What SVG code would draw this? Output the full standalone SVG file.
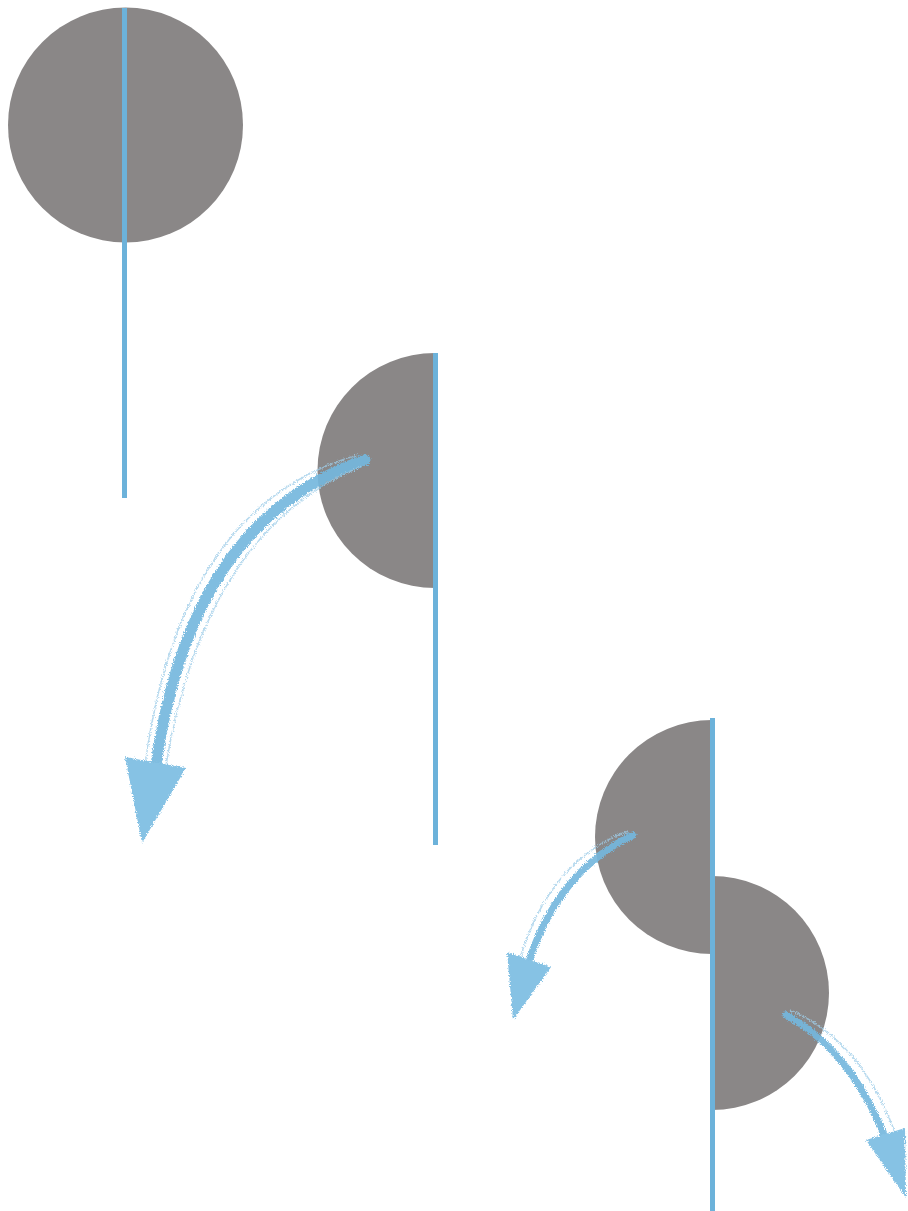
<svg xmlns="http://www.w3.org/2000/svg" width="908" height="1211" viewBox="0 0 908 1211">
<defs>
<filter id="brush" x="-20%" y="-20%" width="140%" height="140%">
<feTurbulence type="fractalNoise" baseFrequency="0.9" numOctaves="2" seed="3" result="n"/>
<feDisplacementMap in="SourceGraphic" in2="n" scale="5" xChannelSelector="R" yChannelSelector="G"/>
</filter>
<style>
.disc{fill:#8a8787}
.axis{stroke:#6cb2da;stroke-width:5;fill:none}
.shaft{fill:none;stroke:#74b8de;stroke-linecap:round}
.head{fill:#7cbde2}
.thin{fill:none;stroke:#9fcde8;stroke-width:1.5;opacity:0.8}
</style>
</defs>
<rect width="908" height="1211" fill="#ffffff"/>
<g id="full-disc">
<circle class="disc" cx="125.5" cy="125" r="117.5"/>
</g>
<g id="half-disc-left">
<path class="disc" d="M435,353 A117.5,117.5 0 0 0 435,588 Z"/>
</g>
<g id="half-disc-upper">
<path class="disc" d="M712,720 A117,117 0 0 0 712,954 Z"/>
</g>
<g id="half-disc-lower">
<path class="disc" d="M712,876 A117,117 0 0 1 712,1110 Z"/>
</g>
<g id="connectors">
<line class="axis" x1="124.5" y1="8" x2="124.5" y2="498"/>
<line class="axis" x1="435.5" y1="353" x2="435.5" y2="845"/>
<line class="axis" x1="712.5" y1="718" x2="712.5" y2="1211"/>
<g filter="url(#brush)" opacity="0.92">
<path class="shaft" stroke-width="11" d="M365,460 Q190,520 156,765"/>
<path class="thin" d="M358,455 Q180,505 145,765"/>
<path class="thin" d="M362,466 Q205,530 166,765"/>
<polygon class="head" points="125,757 186,768 142,843"/>
<path class="shaft" stroke-width="7" d="M633,835 Q560,870 530,958"/>
<path class="thin" d="M628,831 Q550,860 520,958"/>
<polygon class="head" points="507,952 551,967 513,1020"/>
<path class="shaft" stroke-width="7" d="M786,1015 Q850,1050 884,1135"/>
<path class="thin" d="M790,1010 Q860,1040 894,1130"/>
<polygon class="head" points="866,1140 905,1128 906,1198"/>
</g>
</g>
</svg>
